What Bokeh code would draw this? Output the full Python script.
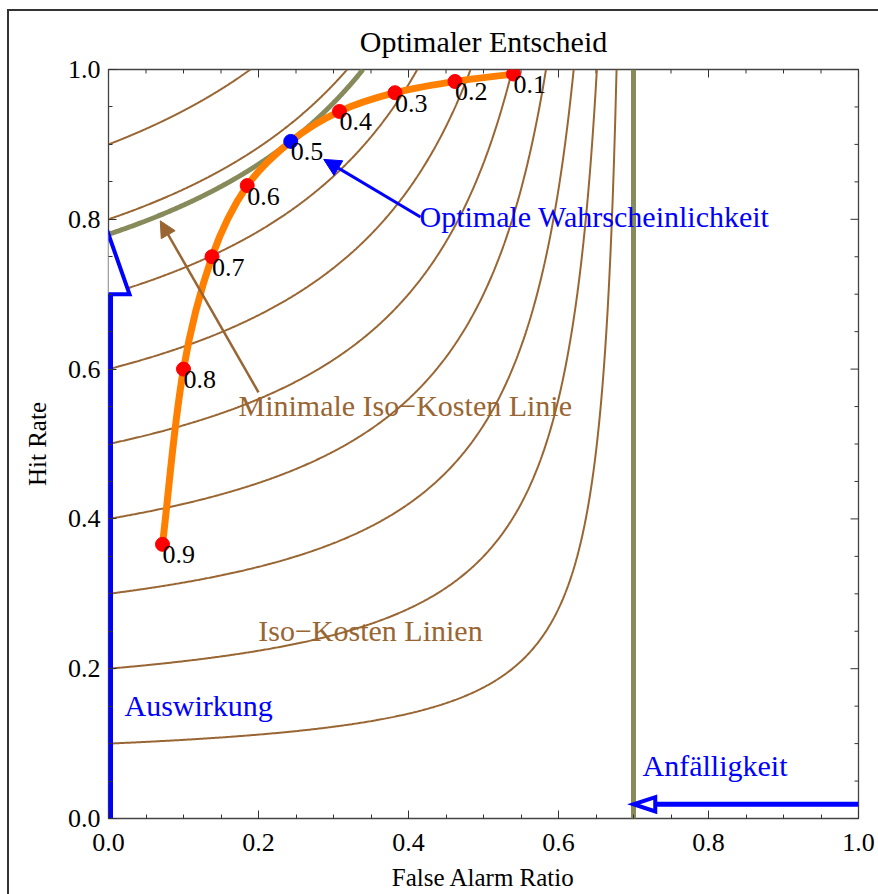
import numpy as np
from bokeh.plotting import figure
from bokeh.models import (SingleIntervalTicker, PrintfTickFormatter, Label,
                          Arrow, NormalHead, ColumnDataSource)
from bokeh.embed import file_html
from bokeh.resources import INLINE
from bokeh.core.properties import value

# ---------------- data ----------------
title_text = "Optimaler Entscheid"
x_label = "False Alarm Ratio"
y_label = "Hit Rate"

threshold_labels = ["0.1", "0.2", "0.3", "0.4", "0.5", "0.6", "0.7", "0.8", "0.9"]
point_far = [0.540, 0.462, 0.382, 0.308, 0.243, 0.185, 0.138, 0.100, 0.072]
point_hr = [0.994, 0.984, 0.969, 0.944, 0.904, 0.845, 0.750, 0.600, 0.366]
optimal_threshold = "0.5"

cost_loss_ratio = 0.3            # Anfälligkeit -> asymptote at 1 - 0.3 = 0.7
iso_levels = [0.1, 0.2, 0.3, 0.4, 0.5, 0.6, 0.7, 0.8, 0.9]   # hit rate at FAR = 0
minimal_iso_level = 0.78

tick_values = [0.0, 0.2, 0.4, 0.6, 0.8, 1.0]
minor_tick_values = [0.05, 0.1, 0.15, 0.25, 0.3, 0.35, 0.45, 0.5, 0.55,
                     0.65, 0.7, 0.75, 0.85, 0.9, 0.95]

# ---------------- styles ----------------
FONT = "Liberation Serif"
BROWN = "#996633"
OLIVE = "#878a5a"
ORANGE = "#ff8000"
BLUE = "#0000ff"
RED = "#ff0000"
FRAME = "#444444"
TICK = "#333333"

asym = 1.0 - cost_loss_ratio


def iso_curve(h0):
    f_end = asym * (1 - h0) / (1 - asym * h0)
    f = np.linspace(0.0, f_end, 400)
    h = h0 * asym * (1 - f) / (asym - f)
    return f, h


def smooth_segments(xs, ys):
    """Cubic Bezier segments through the given points (Catmull-Rom style)."""
    P = np.column_stack([xs, ys]).astype(float)
    n = len(P)
    dirs = []
    for i in range(n):
        a = P[max(i - 1, 0)]
        b = P[min(i + 1, n - 1)]
        d = b - a
        dirs.append(d / np.hypot(*d))
    segs = dict(x0=[], y0=[], x1=[], y1=[], cx0=[], cy0=[], cx1=[], cy1=[])
    for i in range(n - 1):
        L = np.hypot(*(P[i + 1] - P[i]))
        c0 = P[i] + dirs[i] * L / 3
        c1 = P[i + 1] - dirs[i + 1] * L / 3
        segs["x0"].append(P[i][0]); segs["y0"].append(P[i][1])
        segs["x1"].append(P[i + 1][0]); segs["y1"].append(P[i + 1][1])
        segs["cx0"].append(c0[0]); segs["cy0"].append(c0[1])
        segs["cx1"].append(c1[0]); segs["cy1"].append(c1[1])
    return segs


p = figure(frame_width=750, frame_height=749,
           x_range=(0, 1), y_range=(0, 1),
           min_border_left=99, min_border_right=20,
           min_border_top=58, min_border_bottom=76,
           output_backend="svg", toolbar_location=None,
           background_fill_color="white", border_fill_color="white")
p.margin = (9, 0, 0, 7)
p.styles = {"border-left": "2px solid #333333", "border-top": "2px solid #333333"}

p.grid.visible = False
p.outline_line_color = FRAME
p.outline_line_width = 1.3

p.title.text = title_text
p.title.align = "center"
p.title.vertical_align = "top"
p.title.text_font = FONT
p.title.text_font_size = "30px"
p.title.text_font_style = "normal"
p.title.text_color = "black"
p.title.text_line_height = 0.8
p.title.standoff = 20

xaxis = p.below[0]
yaxis = p.left[0]
for ax in [xaxis, yaxis]:
    ax.ticker = SingleIntervalTicker(interval=0.2, num_minor_ticks=4)
    ax.formatter = PrintfTickFormatter(format="%.1f")
    ax.axis_line_color = None
    ax.major_tick_in = 8
    ax.major_tick_out = 0
    ax.minor_tick_in = 4
    ax.minor_tick_out = 0
    ax.major_tick_line_color = TICK
    ax.minor_tick_line_color = TICK
    ax.major_label_text_font = FONT
    ax.major_label_text_font_size = "26px"
    ax.major_label_text_color = "black"
    ax.axis_label_text_font = FONT
    ax.axis_label_text_font_size = "25px"
    ax.axis_label_text_font_style = "normal"
    ax.axis_label_text_color = "black"
xaxis.axis_label = x_label
yaxis.axis_label = y_label
xaxis.major_label_standoff = 15
yaxis.major_label_standoff = 8
xaxis.axis_label_standoff = 10
yaxis.axis_label_standoff = 14

# frame ticks on top and right (no labels)
n_maj, n_min = len(tick_values), len(minor_tick_values)
p.scatter(tick_values, [1.0] * n_maj, marker="dash", angle=np.pi / 2, size=16,
          line_color=TICK, line_width=1)
p.scatter(minor_tick_values, [1.0] * n_min, marker="dash", angle=np.pi / 2, size=8,
          line_color=TICK, line_width=1)
p.scatter([1.0] * n_maj, tick_values, marker="dash", size=16, line_color=TICK, line_width=1)
p.scatter([1.0] * n_min, minor_tick_values, marker="dash", size=8, line_color=TICK, line_width=1)

# iso-cost lines
xs, ys = [], []
for lv in iso_levels:
    f, h = iso_curve(lv)
    xs.append(list(f))
    ys.append(list(h))
p.multi_line(xs, ys, line_color=BROWN, line_width=2)

fm, hm = iso_curve(minimal_iso_level)
p.line(fm, hm, line_color=OLIVE, line_width=5)
p.line([asym, asym], [0, 1], line_color=OLIVE, line_width=5)

# Auswirkung arrow (along FAR = 0, up to minimal iso level)
aus_base = 0.70
aus_half = 0.028
p.line([0, 0], [0, aus_base], line_color=BLUE, line_width=9)
p.patch([-aus_half, aus_half, 0], [aus_base, aus_base, minimal_iso_level],
        fill_color="white", line_color=BLUE, line_width=4, line_join="miter")

# Anfälligkeit arrow (towards FAR = 1 - C/L)
anf_y = 0.019
anf_base = asym + 0.029
anf_half = 0.0095
p.line([1.0, anf_base], [anf_y, anf_y], line_color=BLUE, line_width=5)
p.patch([anf_base, anf_base, asym], [anf_y - anf_half, anf_y + anf_half, anf_y],
        fill_color="white", line_color=BLUE, line_width=4, line_join="miter")

# orange curve through the threshold points, then the points
segs = smooth_segments(point_far, point_hr)
p.bezier(source=ColumnDataSource(segs), x0="x0", y0="y0", x1="x1", y1="y1",
         cx0="cx0", cy0="cy0", cx1="cx1", cy1="cy1",
         line_color=ORANGE, line_width=7, line_cap="round")
colors = [BLUE if t == optimal_threshold else RED for t in threshold_labels]
src = ColumnDataSource(dict(x=point_far, y=point_hr, t=threshold_labels, c=colors))
p.scatter("x", "y", source=src, size=14, fill_color="c", line_color="c")
p.text("x", "y", text="t", source=src, text_font=value(FONT), text_font_size="26px",
       text_baseline="top", text_align="left", x_offset=0, y_offset=2, text_color="black")

# annotation arrows
p.add_layout(Arrow(end=NormalHead(size=17, fill_color=BLUE, line_color=BLUE, line_width=1),
                   x_start=0.416, y_start=0.803, x_end=0.287, y_end=0.880,
                   line_color=BLUE, line_width=3))
p.add_layout(Arrow(end=NormalHead(size=16, fill_color=BROWN, line_color=BROWN, line_width=1),
                   x_start=0.200, y_start=0.569, x_end=0.069, y_end=0.798,
                   line_color=BROWN, line_width=2.5))

labels = [
    (0.4147, 0.8037, "Optimale Wahrscheinlichkeit", BLUE, "left"),
    (0.1733, 0.5514, "Minimale Iso\u2212Kosten Linie", BROWN, "left"),
    (0.3493, 0.2510, "Iso\u2212Kosten Linien", BROWN, "center"),
    (0.0213, 0.1509, "Auswirkung", BLUE, "left"),
    (0.7120, 0.0708, "Anfälligkeit", BLUE, "left"),
]
for x, y, t, c, al in labels:
    p.add_layout(Label(x=x, y=y, text=t, text_color=c, text_font=FONT,
                       text_font_size="30px", text_baseline="middle", text_align=al))

open("out.html", "w").write(file_html(p, INLINE))
